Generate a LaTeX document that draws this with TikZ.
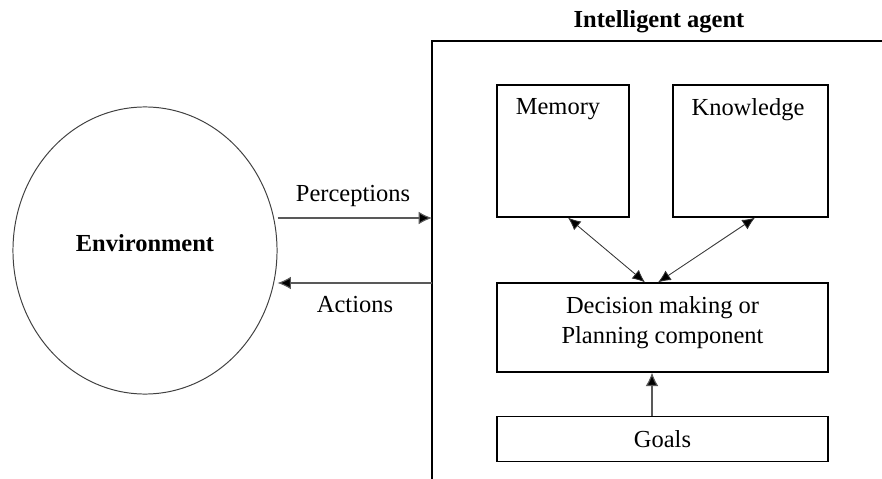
\documentclass[tikz,border=0pt]{standalone}
\usepackage{fontspec}
\setmainfont{Liberation Serif}
\usetikzlibrary{arrows.meta,positioning,shapes.geometric}

\begin{document}
\begin{tikzpicture}[x=0.025cm, y=-0.025cm, font=\fontsize{17.4}{21.3}\selectfont,
		box/.style={draw, line width=0.9pt, inner sep=0pt},
		envshape/.style={draw=black!75, ellipse, line width=0.7pt, minimum width=6.6cm, minimum height=7.175cm},
		conn/.style={draw=black!65, line width=0.8pt, -{Latex[length=9.5pt, width=9pt, fill=black]}},
		twoway/.style={draw=black!80, line width=0.6pt, {Latex[length=9pt, width=8pt, fill=black]}-{Latex[length=9pt, width=8pt, fill=black]}}]
		\useasboundingbox (0,0) rectangle (882,479);
		% environment side
		\node[envshape] (env) at (145,250.5) {};
		\node[font=\fontsize{17.4}{21.3}\selectfont\bfseries] (envlab) at ([shift={(0,-7)}]env.center) {Environment};
		% agent frame, open to the right and bottom
		\coordinate (agent) at (432,41);
		\draw[line width=0.9pt] (900,41) -- (agent) -- (432,500);
		\node[font=\fontsize{17.4}{21.3}\selectfont\bfseries] (title) at (659,22) {Intelligent agent};
		\coordinate (perc) at (432,218);
		\coordinate (act) at (432,283);
		\draw[conn] (perc -| env.east) -- (perc);
		\draw[conn] (act) -- (act -| env.east);
		\node (perclab) at (353,196) {Perceptions};
		\node (actlab) at (355,305) {Actions};
		% inside the agent
		\node[box, minimum width=3.3cm, minimum height=3.3cm] (mem) at (563,151) {};
		\node (memlab) at ([shift={(-5,25)}]mem.north) {Memory};
		\node[box, minimum width=3.875cm, minimum height=3.3cm] (know) at (750.5,151) {};
		\node (knowlab) at ([shift={(-2.5,25)}]know.north) {Knowledge};
		\node[box, minimum width=8.275cm, minimum height=2.225cm] (dec) at (662.5,327.5) {};
		\node[align=center] (declab) at ([shift={(0,-5)}]dec.center) {Decision making or\\Planning component};
		\node[box, minimum width=8.275cm, minimum height=1.125cm, below=1.075cm of dec] (goals) {Goals};
		\draw[twoway] ([shift={(5,0)}]mem.south) -- ([shift={(-17.5,0)}]dec.north);
		\draw[twoway] ([shift={(4.5,0)}]know.south) -- ([shift={(-4.5,0)}]dec.north);
		\draw[conn] ([shift={(-10.5,0)}]goals.north) -- ([shift={(-10.5,0)}]dec.south);
	\end{tikzpicture}
\end{document}
